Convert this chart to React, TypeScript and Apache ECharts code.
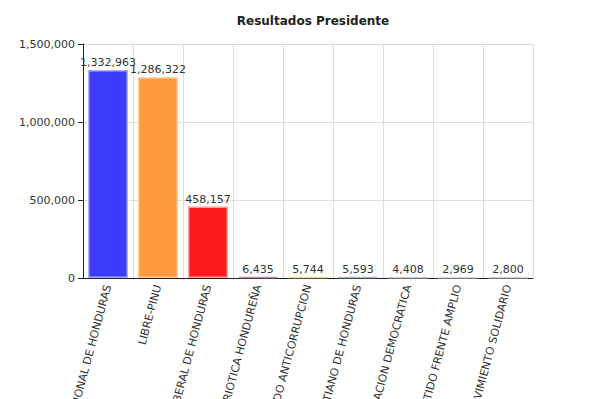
import React, { useEffect, useRef } from "react";
import * as echarts from "echarts";

const categories = [
  "PARTIDO NACIONAL DE HONDURAS",
  "LIBRE-PINU",
  "PARTIDO LIBERAL DE HONDURAS",
  "ALIANZA PATRIOTICA HONDUREÑA",
  "PARTIDO ANTICORRUPCION",
  "DEMOCRATA CRISTIANO DE HONDURAS",
  "PARTIDO UNIFICACION DEMOCRATICA",
  "PARTIDO FRENTE AMPLIO",
  "PARTIDO MOVIMIENTO SOLIDARIO",
];
const votes = [1332963, 1286322, 458157, 6435, 5744, 5593, 4408, 2969, 2800];
const barColors = ["#3c3cf8", "#fd9a3c", "#fb1b1b", "#8a2a5a", "#d8c030", "#6a7a9a", "#8a8a8a", "#b0b0b0", "#a0a0a0"];
const borderColors = ["#a9a9ff", "#ffc890", "#ff9a9a", "#c090b0", "#eee090", "#b0b8d0", "#c8c8c8", "#d8d8d8", "#d0d0d0"];
const yTicks = [0, 500000, 1000000, 1500000];

const fmt = (v: number) => v.toLocaleString("en-US");

export default function App() {
  const ref = useRef<HTMLDivElement>(null);
  useEffect(() => {
    const chart = echarts.init(ref.current!, null, { renderer: "svg" });
    chart.setOption({
      animation: false,
      textStyle: { fontFamily: "DejaVu Sans" },
      title: {
        text: "Resultados Presidente",
        left: 308,
        top: 10,
        textAlign: "center",
        textStyle: { fontSize: 12, fontWeight: "bold", color: "#222", fontFamily: "DejaVu Sans" },
      },
      grid: { left: 83, right: 67, top: 44, bottom: 121, containLabel: false, outerBoundsMode: "none" },
      xAxis: {
        type: "category",
        data: categories,
        axisLine: { lineStyle: { color: "#222" } },
        axisTick: { alignWithLabel: true, length: 4, lineStyle: { color: "#222" }, interval: 0 },
        splitLine: { show: true, interval: 0, lineStyle: { color: "#dcdcdc" } },
        axisLabel: { rotate: 75, interval: 0, fontSize: 11, color: "#333", margin: 7 },
      },
      yAxis: {
        type: "value",
        min: 0,
        max: yTicks[yTicks.length - 1],
        interval: 500000,
        axisLine: { show: true, lineStyle: { color: "#222" } },
        axisTick: { show: true, length: 5, lineStyle: { color: "#222" } },
        splitLine: { lineStyle: { color: "#dcdcdc" } },
        axisLabel: { fontSize: 11, color: "#333", formatter: (v: number) => fmt(v), margin: 8 },
      },
      series: [
        {
          type: "bar",
          barCategoryGap: "20%",
          data: votes.map((v, i) => ({
            value: v,
            itemStyle: { color: barColors[i], borderColor: borderColors[i], borderWidth: 1.5 },
          })),
          label: {
            show: true,
            position: "top",
            distance: 2,
            fontSize: 11,
            color: "#333",
            formatter: (p: any) => fmt(p.value),
          },
        },
      ],
    });
    return () => chart.dispose();
  }, []);
  return <div ref={ref} style={{ width: 600, height: 399, position: "absolute", left: 0, top: 0 }} />;
}
